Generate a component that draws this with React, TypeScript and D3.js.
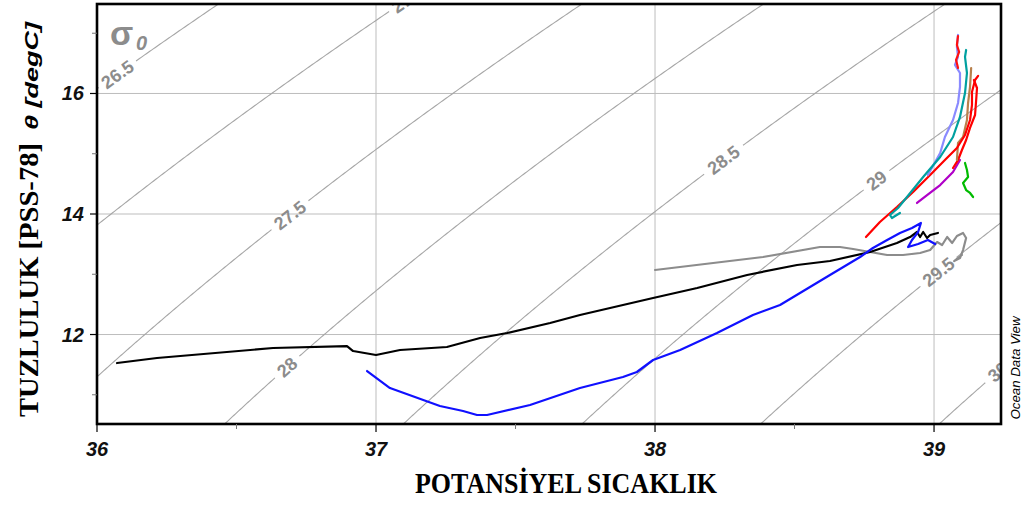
import React from "react";
import * as d3 from "d3";

// θ–S profiles as [salinity-axis value, θ] pairs
const blackProfile: [number, number][] = [
  [36.072, 11.527], [36.215, 11.61], [36.631, 11.776], [36.896, 11.809], [36.918, 11.726],
  [37.0, 11.66], [37.086, 11.743], [37.254, 11.793], [37.373, 11.942], [37.47, 12.025],
  [37.624, 12.191], [37.731, 12.324], [37.993, 12.606], [38.151, 12.772], [38.33, 12.988],
  [38.509, 13.154], [38.627, 13.22], [38.771, 13.369], [38.867, 13.519], [38.914, 13.618],
  [38.939, 13.701], [38.95, 13.618], [38.961, 13.701], [38.975, 13.602], [38.986, 13.651],
  [39.014, 13.685],
];
const blueProfile: [number, number][] = [
  [36.968, 11.394], [37.05, 11.112], [37.229, 10.813], [37.312, 10.73], [37.362, 10.664],
  [37.398, 10.664], [37.552, 10.83], [37.731, 11.112], [37.885, 11.295], [37.935, 11.378],
  [37.993, 11.577], [38.09, 11.743], [38.222, 12.025], [38.351, 12.324], [38.448, 12.49],
  [38.627, 12.988], [38.735, 13.286], [38.781, 13.436], [38.832, 13.568], [38.878, 13.685],
  [38.921, 13.768], [38.953, 13.851], [38.943, 13.701], [38.921, 13.568], [38.907, 13.452],
  [38.943, 13.502], [38.978, 13.568], [39.004, 13.502],
];
const grayProfile: [number, number][] = [
  [38.0, 13.071], [38.387, 13.286], [38.591, 13.452], [38.663, 13.452], [38.71, 13.419],
  [38.771, 13.369], [38.832, 13.32], [38.889, 13.32], [38.95, 13.353], [38.986, 13.402],
  [39.011, 13.535], [39.029, 13.485], [39.047, 13.618], [39.065, 13.519], [39.082, 13.635],
  [39.104, 13.685], [39.115, 13.602], [39.104, 13.402], [39.093, 13.27], [39.072, 13.22],
  [39.1, 13.32],
];
const redProfileA: [number, number][] = [
  [38.756, 13.618], [38.806, 13.867], [38.867, 14.116], [38.925, 14.365], [38.986, 14.647],
  [39.039, 14.896], [39.082, 15.095], [39.111, 15.311], [39.129, 15.56], [39.136, 15.809],
  [39.136, 16.025], [39.147, 16.224], [39.158, 16.291],
];
const redProfileB: [number, number][] = [
  [39.068, 14.764], [39.086, 14.896], [39.1, 15.062], [39.115, 15.228], [39.129, 15.428],
  [39.147, 15.643], [39.151, 15.892], [39.154, 16.091], [39.143, 16.224],
];
const redProfileC: [number, number][] = [
  [39.086, 16.954], [39.082, 16.805], [39.09, 16.689], [39.079, 16.556], [39.086, 16.423],
];
const tealProfile: [number, number][] = [
  [38.878, 14.017], [38.849, 13.934], [38.842, 13.984], [38.871, 14.1], [38.903, 14.282],
  [38.961, 14.614], [39.022, 14.946], [39.068, 15.278], [39.093, 15.61], [39.111, 16.008],
  [39.118, 16.34], [39.111, 16.606], [39.115, 16.722],
];
const periwinkleProfile: [number, number][] = [
  [38.978, 14.647], [39.022, 15.013], [39.039, 15.278], [39.068, 15.56], [39.086, 15.842],
  [39.093, 16.108], [39.093, 16.34], [39.075, 16.473], [39.086, 16.606], [39.082, 16.772],
  [39.086, 16.971],
];
const brownProfile: [number, number][] = [
  [39.082, 14.896], [39.086, 15.178], [39.104, 15.278], [39.118, 15.56], [39.122, 15.842],
  [39.129, 16.108], [39.133, 16.423],
];
const purpleProfile: [number, number][] = [
  [38.939, 14.183], [38.975, 14.315], [39.022, 14.481], [39.068, 14.697], [39.093, 14.896],
];
const greenProfile: [number, number][] = [
  [39.111, 14.847], [39.118, 14.73], [39.122, 14.614], [39.104, 14.515], [39.115, 14.398],
  [39.129, 14.349], [39.14, 14.282],
];

const profiles = [
  { data: grayProfile, color: "#8c8c8c" },
  { data: blackProfile, color: "#000000" },
  { data: blueProfile, color: "#1010ff" },
  { data: purpleProfile, color: "#b000c8" },
  { data: redProfileB, color: "#ff0000" },
  { data: brownProfile, color: "#b8804c" },
  { data: redProfileA, color: "#ff0000" },
  { data: periwinkleProfile, color: "#8a8aff" },
  { data: tealProfile, color: "#00a0a0" },
  { data: redProfileC, color: "#ff1010" },
  { data: greenProfile, color: "#00bb00" },
];

// σ0 isopycnal levels and the θ at which each label sits
const sigmaLevels = [26.5, 27, 27.5, 28, 28.5, 29, 29.5, 30];
const sigmaLabelTheta = [16.32, 17.5, 13.98, 11.46, 14.9, 14.56, 13.04, 11.38];

const xMajorTicks = [36, 37, 38, 39];
const xMinorTicks = [36.5, 37.5, 38.5];
const yMajorTicks = [12, 14, 16];
const yMinorTicks = [11, 13, 15, 17];

// EOS-80 one-atmosphere density anomaly
function sigma0(S: number, T: number): number {
  const rw =
    999.842594 + 6.793952e-2 * T - 9.09529e-3 * T ** 2 + 1.001685e-4 * T ** 3 -
    1.120083e-6 * T ** 4 + 6.536332e-9 * T ** 5;
  const A = 8.24493e-1 - 4.0899e-3 * T + 7.6438e-5 * T ** 2 - 8.2467e-7 * T ** 3 + 5.3875e-9 * T ** 4;
  const B = -5.72466e-3 + 1.0227e-4 * T - 1.6546e-6 * T ** 2;
  const C = 4.8314e-4;
  return rw + A * S + B * S ** 1.5 + C * S * S - 1000;
}

function salinityAt(sig: number, T: number): number {
  let lo = 20, hi = 50;
  for (let i = 0; i < 60; i++) {
    const mid = (lo + hi) / 2;
    if (sigma0(mid, T) < sig) lo = mid; else hi = mid;
  }
  return (lo + hi) / 2;
}

const W = 1029, H = 505;
const left = 97, right = 1001, top = 4, bottom = 424;

export default function App() {
  const x = d3.scaleLinear().domain([36, 39.24]).range([left, right]);
  const y = d3.scaleLinear().domain([10.515, 17.485]).range([bottom, top]);

  const thetaSamples = d3.range(9, 19.001, 0.02);
  const sansFont = "'Liberation Sans', Arial, sans-serif";
  const serifFont = "'Liberation Serif', 'Times New Roman', serif";

  const contours = sigmaLevels.map((sig, i) => {
    const lt = sigmaLabelTheta[i];
    const lx = x(salinityAt(sig, lt));
    const ly = y(lt);
    const x1 = x(salinityAt(sig, lt - 0.05)), y1 = y(lt - 0.05);
    const x2 = x(salinityAt(sig, lt + 0.05)), y2 = y(lt + 0.05);
    const angle = (Math.atan2(y2 - y1, x2 - x1) * 180) / Math.PI;
    const text = String(sig);
    const fs = 18;
    const tw = [...text].reduce((s, c) => s + (c === "." ? 0.278 : 0.556), 0) * fs;
    const r = tw / 2 + 5;
    const pts = thetaSamples.map((t) => [x(salinityAt(sig, t)), y(t)] as [number, number]);
    const path = d3
      .line<[number, number]>()
      .defined((p) => Math.hypot(p[0] - lx, p[1] - ly) > r)
      .x((p) => p[0])
      .y((p) => p[1])(pts);
    return { sig, text, lx, ly, angle, path, fs };
  });

  const profileLine = d3
    .line<[number, number]>()
    .x((d) => x(d[0]))
    .y((d) => y(d[1]));

  return (
    <svg width={W} height={H} style={{ position: "absolute", left: 0, top: 0, background: "#fff" }}>
      <defs>
        <clipPath id="plotArea">
          <rect x={left} y={top} width={right - left} height={bottom - top} />
        </clipPath>
      </defs>
      <rect x={0} y={0} width={W} height={H} fill="#fff" />

      <g clipPath="url(#plotArea)">
        {xMajorTicks.map((t) => (
          <line key={"gx" + t} x1={x(t)} x2={x(t)} y1={top} y2={bottom} stroke="#bdbdbd" strokeWidth={1} />
        ))}
        {yMajorTicks.map((t) => (
          <line key={"gy" + t} x1={left} x2={right} y1={y(t)} y2={y(t)} stroke="#bdbdbd" strokeWidth={1} />
        ))}
        {contours.map((c) => (
          <g key={"c" + c.sig}>
            <path d={c.path || ""} fill="none" stroke="#a6a6a6" strokeWidth={1.1} />
            <text
              transform={`translate(${c.lx},${c.ly}) rotate(${c.angle})`}
              textAnchor="middle"
              dy="0.36em"
              fontFamily={sansFont}
              fontWeight="bold"
              fontSize={c.fs}
              fill="#8c8c8c"
            >
              {c.text}
            </text>
          </g>
        ))}
        {profiles.map((p, i) => (
          <path
            key={"p" + i}
            d={profileLine(p.data) || ""}
            fill="none"
            stroke={p.color}
            strokeWidth={2.2}
            strokeLinejoin="round"
            strokeLinecap="round"
          />
        ))}
      </g>

      {/* σ0 marker */}
      <text x={110} y={45} fontFamily={sansFont} fontWeight="bold" fontSize={34} fill="#8c8c8c">
        σ
      </text>
      <text x={136} y={50} fontFamily={sansFont} fontWeight="bold" fontStyle="italic" fontSize={20} fill="#8c8c8c">
        0
      </text>

      {/* frame */}
      <rect x={left} y={top} width={right - left} height={bottom - top} fill="none" stroke="#000" strokeWidth={2.6} />

      {/* x ticks */}
      {xMajorTicks.map((t) => (
        <g key={"xt" + t}>
          <line x1={x(t)} x2={x(t)} y1={bottom} y2={bottom + 8} stroke="#000" strokeWidth={1.2} />
          <text
            x={x(t)}
            y={456}
            textAnchor="middle"
            fontFamily={sansFont}
            fontWeight="bold"
            fontStyle="italic"
            fontSize={20}
            fill="#111"
          >
            {t}
          </text>
        </g>
      ))}
      {xMinorTicks.map((t) => (
        <line key={"xm" + t} x1={x(t)} x2={x(t)} y1={bottom} y2={bottom + 5} stroke="#777" strokeWidth={1} />
      ))}

      {/* y ticks */}
      {yMajorTicks.map((t) => (
        <g key={"yt" + t}>
          <line x1={left - 7} x2={left} y1={y(t)} y2={y(t)} stroke="#000" strokeWidth={1.2} />
          <text
            x={84}
            y={y(t) + 7}
            textAnchor="end"
            fontFamily={sansFont}
            fontWeight="bold"
            fontStyle="italic"
            fontSize={20}
            fill="#111"
          >
            {t}
          </text>
        </g>
      ))}
      {yMinorTicks.map((t) => (
        <line key={"ym" + t} x1={left - 5} x2={left} y1={y(t)} y2={y(t)} stroke="#777" strokeWidth={1} />
      ))}

      {/* axis titles */}
      <text
        x={566}
        y={493}
        textAnchor="middle"
        fontFamily={serifFont}
        fontWeight="bold"
        fontSize={29}
        textLength={302}
        lengthAdjust="spacingAndGlyphs"
        fill="#000"
      >
        POTANSİYEL SICAKLIK
      </text>
      <text
        transform="translate(38,76) rotate(-90)"
        textAnchor="middle"
        fontFamily={sansFont}
        fontWeight="bold"
        fontStyle="italic"
        fontSize={19}
        textLength={108}
        lengthAdjust="spacingAndGlyphs"
        fill="#000"
      >
        θ [degC]
      </text>
      <text
        transform="translate(38,280) rotate(-90)"
        textAnchor="middle"
        fontFamily={serifFont}
        fontWeight="bold"
        fontSize={28}
        textLength={274}
        lengthAdjust="spacingAndGlyphs"
        fill="#000"
      >
        TUZLULUK [PSS-78]
      </text>
      <text
        transform="translate(1020,368) rotate(-90)"
        textAnchor="middle"
        fontFamily={sansFont}
        fontStyle="italic"
        fontSize={12}
        textLength={103}
        lengthAdjust="spacingAndGlyphs"
        fill="#000"
      >
        Ocean Data View
      </text>
    </svg>
  );
}
